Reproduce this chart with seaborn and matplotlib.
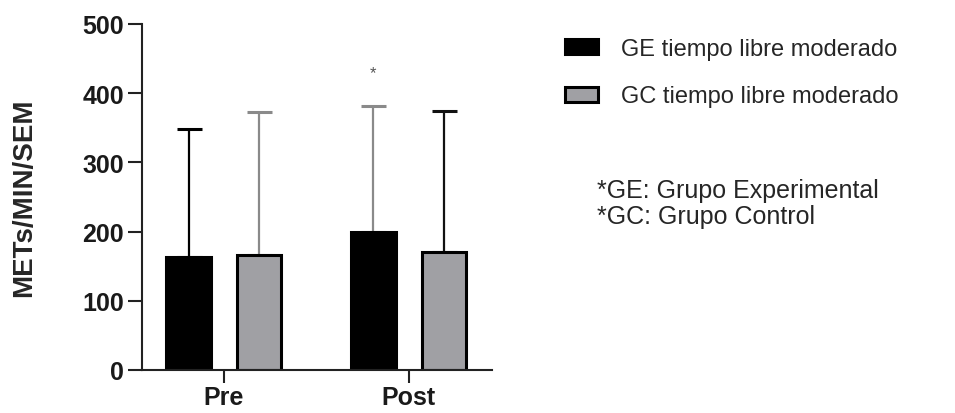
import matplotlib
matplotlib.use("Agg")
import matplotlib.pyplot as plt
import matplotlib.patches as mpatches
import seaborn as sns
import pandas as pd
import numpy as np

# Data
periods = ["Pre", "Post"]
groups = ["GE tiempo libre moderado", "GC tiempo libre moderado"]
ge_means = [163, 199]
gc_means = [166, 170]
ge_sem = [185, 182]
gc_sem = [207, 204]

data = pd.DataFrame({
    "Periodo": periods * 2,
    "Grupo": [groups[0]] * 2 + [groups[1]] * 2,
    "Valor": ge_means + gc_means,
})

sns.set_style("ticks")
plt.rcParams["font.family"] = ["Liberation Sans", "DejaVu Sans"]

fig = plt.figure(figsize=(9.55, 4.14), dpi=100)
ax = fig.add_axes([0.149, 0.104, 0.366, 0.836])

colors = ["#000000", "#a0a0a4"]
sns.barplot(data=data, x="Periodo", y="Valor", hue="Grupo", order=periods,
            hue_order=groups, palette=colors, width=0.76, gap=0.37,
            errorbar=None, edgecolor="black", linewidth=2.2, legend=False, ax=ax)

# upper-only error bars (SEM), drawn behind the bars
offset = 0.19
x = np.arange(len(periods))
err_colors = [["#000000", "#8a8a8a"], ["#8a8a8a", "#111111"]]
for i in range(len(periods)):
    for j, (means, sems) in enumerate([(ge_means, ge_sem), (gc_means, gc_sem)]):
        xpos = x[i] + (-offset if j == 0 else offset)
        ax.errorbar(xpos, means[i], yerr=[[0], [sems[i]]], fmt="none",
                    ecolor=err_colors[i][j], elinewidth=1.6, capsize=9,
                    capthick=2.2, zorder=0.5)

ax.text(x[1] - offset, ge_means[1] + ge_sem[1] + 48, "*", ha="center",
        va="center", fontsize=12, color="#555555")

ax.set_xlim(-0.44, 1.45)
ax.set_ylim(0, 500)
ax.set_yticks([0, 100, 200, 300, 400, 500])
ax.set_xlabel("")
ax.set_ylabel("METs/MIN/SEM", fontsize=20, fontweight="bold", labelpad=33)
for lab in ax.get_xticklabels() + ax.get_yticklabels():
    lab.set_fontweight("bold")
ax.tick_params(axis="both", labelsize=18, width=1.5, length=10, color="#222222",
               labelcolor="#1a1a1a")
ax.tick_params(axis="y", pad=3)
ax.tick_params(axis="x", length=9, pad=2)
for s in ["left", "bottom"]:
    ax.spines[s].set_linewidth(1.5)
    ax.spines[s].set_color("#222222")
sns.despine(ax=ax)

handles = [mpatches.Patch(facecolor=c, edgecolor="black", linewidth=2.2) for c in colors]
fig.legend(handles, groups, loc="upper left", bbox_to_anchor=(0.592, 0.906),
           frameon=False, fontsize=17, handlelength=1.4, handleheight=0.6,
           handletextpad=0.95, labelspacing=1.08, borderaxespad=0,
           borderpad=0)

fig.text(0.625, 0.522, "*GE: Grupo Experimental", fontsize=18, va="baseline")
fig.text(0.625, 0.459, "*GC: Grupo Control", fontsize=18, va="baseline")

fig.savefig("out.png", dpi=100)
